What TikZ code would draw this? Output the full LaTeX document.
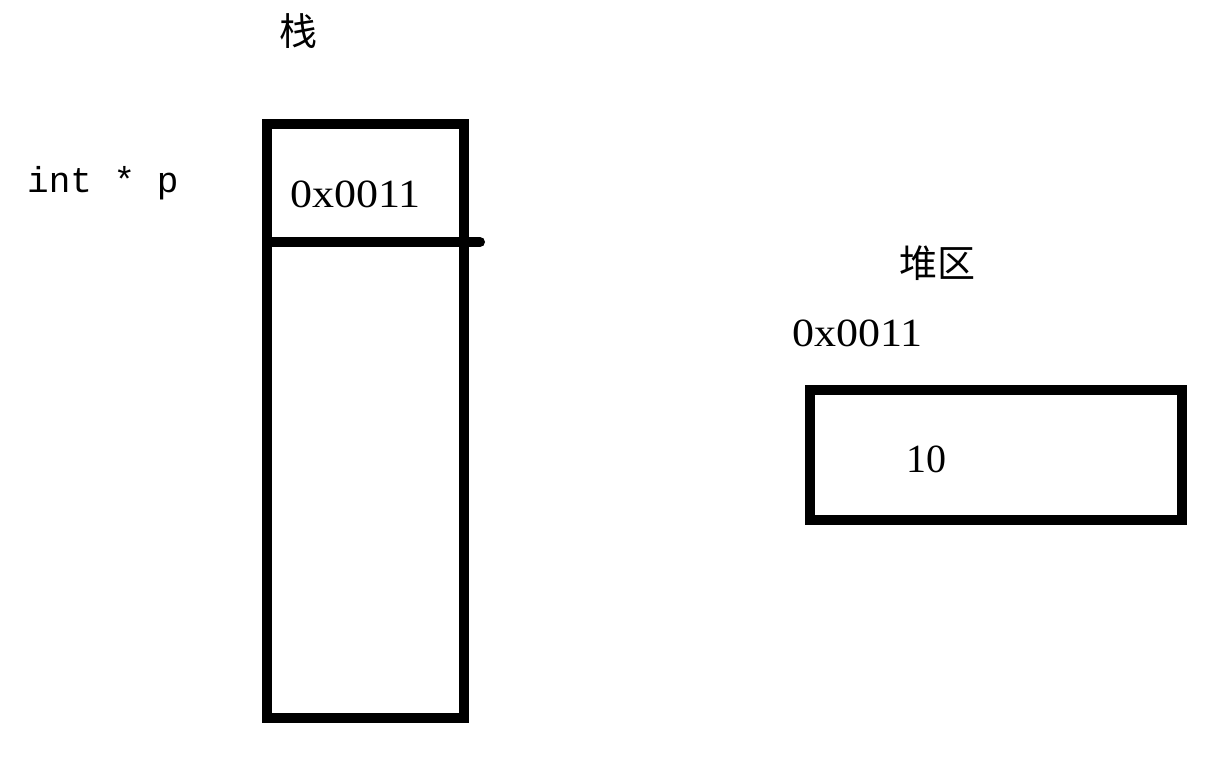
\documentclass[tikz,border=0pt]{standalone}
\usepackage{fontspec}
\setmainfont{Liberation Serif}
\setmonofont{Liberation Mono}
\newfontfamily\cjk{Noto Sans CJK SC}
\newfontfamily\addrfont[FakeStretch=1.1]{Liberation Serif}
\usetikzlibrary{positioning}

\begin{document}
\begin{tikzpicture}[
  x=1pt, y=-1pt,
  every node/.style={font=\fontsize{40}{48}\selectfont, inner sep=0pt},
  title/.style={font=\cjk\fontsize{38}{46}\selectfont, anchor=base},
  code/.style={font=\ttfamily\fontsize{36}{44}\selectfont, anchor=base west},
  addr/.style={font=\addrfont\fontsize{40}{48}\selectfont, anchor=base west},
  wall/.style={draw, line width=10pt, line cap=round}
]
\useasboundingbox (0,0) rectangle (1222,758);

% stack
\node[title] (stackTitle) at (298,45) {栈};
\node[code] (ptrDecl) at (27,192) {int * p};
\draw[wall, line cap=butt, line join=miter] (267,124) rectangle (464,718);
\coordinate (slotL) at (267,242);
\coordinate (slotR) at (480,242);
\draw[wall] (slotL) -- (slotR);
\node[addr] (ptrVal) at (290,207) {0x0011};

% heap
\node[title] (heapTitle) at (937,277) {堆区};
\node[addr] (heapAddr) at (792,346) {0x0011};
\draw[wall, line cap=butt, line join=miter] (810,390) rectangle (1182,520);
\node[anchor=base] (heapVal) at (926,472) {10};
\end{tikzpicture}
\end{document}
